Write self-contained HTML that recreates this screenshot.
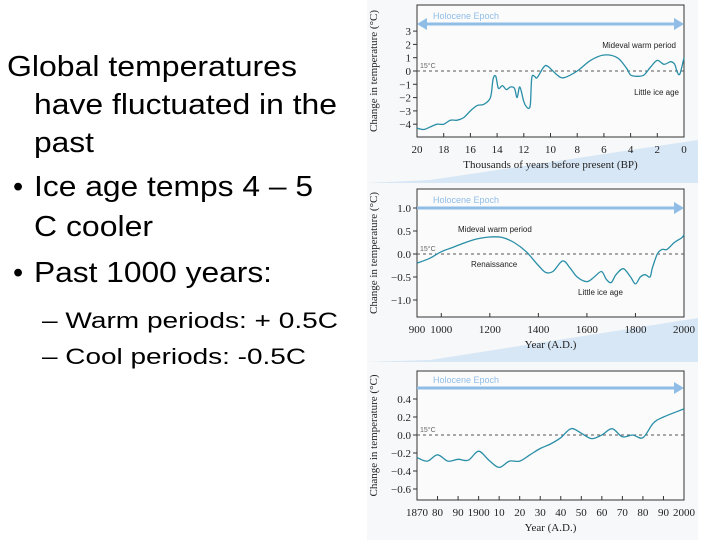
<!DOCTYPE html>
<html><head><meta charset="utf-8"><style>
html,body{margin:0;padding:0;background:#fff;}
svg{display:block;font-family:"Liberation Sans",Arial,sans-serif;}
.ax{font-family:"Liberation Serif",serif;font-size:11px;fill:#222;}
</style></head><body>
<svg width="720" height="540" viewBox="0 0 720 540">
<g font-size="29" fill="#000">
<text x="7" y="76" textLength="290" lengthAdjust="spacingAndGlyphs">Global temperatures</text>
<text x="34" y="114" textLength="303" lengthAdjust="spacingAndGlyphs">have fluctuated in the</text>
<text x="34" y="152" textLength="60" lengthAdjust="spacingAndGlyphs">past</text>
<text x="13" y="196">•</text>
<text x="34" y="196" textLength="279" lengthAdjust="spacingAndGlyphs">Ice age temps 4 – 5</text>
<text x="34" y="236" textLength="119" lengthAdjust="spacingAndGlyphs">C cooler</text>
<text x="13" y="282">•</text>
<text x="34" y="282" textLength="238" lengthAdjust="spacingAndGlyphs">Past 1000 years:</text>
<text x="42" y="328" font-size="22" textLength="296" lengthAdjust="spacingAndGlyphs">– Warm periods: + 0.5C</text>
<text x="42" y="364" font-size="22" textLength="264" lengthAdjust="spacingAndGlyphs">– Cool periods: -0.5C</text>
</g>
<rect x="367" y="0" width="331" height="540" fill="#f7f8f9"/>
<polygon points="430,180 698,140 698,183 367,183" fill="#d8e7f5"/>
<polygon points="430,360 698,318 698,362 367,362" fill="#d8e7f5"/>
<g id="charts"></g>
</svg>
<script>
// Chart 1: thousands of years BP
const c1X=[20,19.5,19,18.5,18,17.5,17,16.5,16,15.5,15,14.5,14.3,14.1,13.9,13.6,13.3,13,12.7,12.5,12.3,12,11.8,11.6,11.5,11.4,11.2,11,10.5,10.2,9.5,9,8,7,6,5,4.3,4,3.5,3,2.5,2,1.5,1,0.7,0.5,0.3,0];
const c1Y=[-4.3,-4.4,-4.2,-4,-4,-3.7,-3.7,-3.5,-3,-2.6,-2.5,-2,-0.6,-0.4,-1.3,-1.1,-1.4,-1.2,-1.3,-2,-1.2,-2.3,-2.7,-2.8,-2.4,-0.5,-0.4,-0.5,0.3,0.35,-0.3,-0.5,0,0.8,1.2,1,0.2,-0.3,-0.4,-0.3,0.3,0.8,0.5,0.7,0.5,-0.1,-0.2,1];
const c1XTicks=[20,18,16,14,12,10,8,6,4,2,0];
const c1YTicks=[3,2,1,0,-1,-2,-3,-4];
// Chart 2: years AD
const c2X=[900,950,1000,1050,1100,1150,1200,1250,1300,1350,1400,1430,1460,1500,1530,1560,1600,1630,1660,1680,1700,1720,1750,1780,1800,1820,1840,1860,1870,1890,1910,1930,1960,1990,2000];
const c2Y=[-0.2,-0.1,0.05,0.15,0.25,0.33,0.37,0.36,0.25,0.05,-0.25,-0.4,-0.38,-0.15,-0.3,-0.5,-0.6,-0.5,-0.38,-0.55,-0.62,-0.45,-0.32,-0.5,-0.65,-0.5,-0.45,-0.5,-0.3,0,0.1,0.1,0.25,0.35,0.42];
const c2XTicks=[1000,1200,1400,1600,1800,2000];
const c2YTicks=[1.0,0.5,0.0,-0.5,-1.0];
// Chart 3: years AD
const c3X=[1870,1875,1880,1885,1890,1895,1900,1905,1910,1915,1920,1925,1930,1935,1940,1945,1950,1955,1960,1965,1970,1975,1980,1985,1990,2000];
const c3Y=[-0.25,-0.29,-0.22,-0.29,-0.27,-0.28,-0.18,-0.28,-0.36,-0.29,-0.29,-0.22,-0.15,-0.1,-0.03,0.07,0.02,-0.04,0,0.07,-0.02,0,-0.03,0.13,0.2,0.29];
const c3XTicks=[1870,1880,1890,1900,1910,1920,1930,1940,1950,1960,1970,1980,1990,2000];
const c3XLabels=["1870","80","90","1900","10","20","30","40","50","60","70","80","90","2000"];
const c3YTicks=[0.4,0.2,0.0,-0.2,-0.4,-0.6];

const NS="http://www.w3.org/2000/svg";
const root=document.getElementById('charts');
function mk(tag,attrs,parent){const e=document.createElementNS(NS,tag);for(const k in attrs)e.setAttribute(k,attrs[k]);(parent||root).appendChild(e);return e;}
function smooth(pts){let d="M"+pts[0][0]+","+pts[0][1];for(let i=0;i<pts.length-1;i++){const p0=pts[Math.max(0,i-1)],p1=pts[i],p2=pts[i+1],p3=pts[Math.min(pts.length-1,i+2)];const c1=[p1[0]+(p2[0]-p0[0])/6,p1[1]+(p2[1]-p0[1])/6],c2=[p2[0]-(p3[0]-p1[0])/6,p2[1]-(p3[1]-p1[1])/6];d+="C"+c1[0].toFixed(1)+","+c1[1].toFixed(1)+" "+c2[0].toFixed(1)+","+c2[1].toFixed(1)+" "+p2[0].toFixed(1)+","+p2[1].toFixed(1);}return d;}
function chart(o){
 const g=mk('g',{});
 
 
 const xs=v=>o.x0+(v-o.d0)/(o.d1-o.d0)*(o.x1-o.x0);
 const ys=v=>o.zeroY-v*o.ppu;
 const frame=mk('rect',{x:o.x0,y:o.top,width:o.x1-o.x0,height:o.bottom-o.top,fill:'#fbfbfc',stroke:'#333','stroke-width':1},g);
 
 
 const zl=mk('line',{x1:o.x0,x2:o.x1,y1:ys(0),y2:ys(0),stroke:'#555','stroke-dasharray':'3,3','stroke-width':1},g);
 
 
 const bl=mk('text',{x:o.x0+3,y:ys(0)-3,'font-size':7,fill:'#666'},g);bl.textContent='15°C';
 
 
 const ay=o.top+o.arrowOff;
 const ar=mk('line',{x1:o.arrowLeft?o.x0+8:o.x0,x2:o.x1-8,y1:ay,y2:ay,stroke:'#8fbde6','stroke-width':3},g);
 
 
 mk('polygon',{points:(o.x1)+","+ay+" "+(o.x1-10)+","+(ay-6)+" "+(o.x1-10)+","+(ay+6),fill:'#8fbde6'},g);
 if(o.arrowLeft)mk('polygon',{points:(o.x0)+","+ay+" "+(o.x0+10)+","+(ay-6)+" "+(o.x0+10)+","+(ay+6),fill:'#8fbde6'},g);
 const ht=mk('text',{x:o.x0+16,y:ay-5,'font-size':9,fill:'#8fbde6'},g);ht.textContent='Holocene Epoch';
 
 
 o.yt.forEach(v=>{const y=ys(v);mk('line',{x1:o.x0-4,x2:o.x0,y1:y,y2:y,stroke:'#333'},g);
  const t=mk('text',{x:o.x0-6,y:y+4,'text-anchor':'end',class:'ax'},g);t.textContent=(v<0?'−':'')+Math.abs(v).toFixed(o.dec);
  
  });
 o.xt.forEach((v,i)=>{const x=xs(v);mk('line',{x1:x,x2:x,y1:o.bottom,y2:o.bottom-4,stroke:'#333'},g);
  const t=mk('text',{x:x,y:o.bottom+16,'text-anchor':'middle',class:'ax'},g);t.textContent=o.xl?o.xl[i]:String(v);
  
  });
 const xt=mk('text',{x:(o.x0+o.x1)/2,y:o.bottom+31,'text-anchor':'middle',class:'ax'},g);xt.textContent=o.xTitle;
 
 
 const yx=o.x0-40,ymid=(o.top+o.bottom)/2;
 const yt=mk('text',{x:yx,y:ymid,'text-anchor':'middle',class:'ax',transform:'rotate(-90 '+yx+' '+ymid+')'},g);yt.textContent='Change in temperature (°C)';
 
 
 const pts=o.X.map((v,i)=>[xs(v),ys(o.Y[i])]);
 const p=mk('path',{d:smooth(pts),fill:'none',stroke:'#2a8fa6','stroke-width':1.3},g);
 
 
 (o.notes||[]).forEach(n=>{const t=mk('text',{x:n[1],y:n[2],'font-size':8,fill:'#222','text-anchor':n[3]||'start'},g);t.textContent=n[0];
  
  });
}
chart({name:'chart-20000-years',x0:417,x1:684,top:5,bottom:137,zeroY:71,ppu:13.3,d0:20,d1:0,X:c1X,Y:c1Y,xt:c1XTicks,yt:c1YTicks,dec:0,arrowOff:19,arrowLeft:true,xTitle:'Thousands of years before present (BP)',notes:[['Mideval warm period',676,48,'end'],['Little ice age',679,95,'end']]});
chart({name:'chart-1000-years',x0:417,x1:684,top:189,bottom:317,zeroY:254,ppu:46,d0:900,d1:2000,X:c2X,Y:c2Y,xt:[900].concat(c2XTicks),yt:c2YTicks,dec:1,arrowOff:19,arrowLeft:false,xTitle:'Year (A.D.)',notes:[['Mideval warm period',458,232],['Renaissance',471,267],['Little ice age',578,295]]});
chart({name:'chart-130-years',x0:417,x1:684,top:371,bottom:500,zeroY:435,ppu:90,d0:1870,d1:2000,X:c3X,Y:c3Y,xt:c3XTicks,xl:c3XLabels,yt:c3YTicks,dec:1,arrowOff:17,arrowLeft:false,xTitle:'Year (A.D.)'});
</script>
</body></html>
